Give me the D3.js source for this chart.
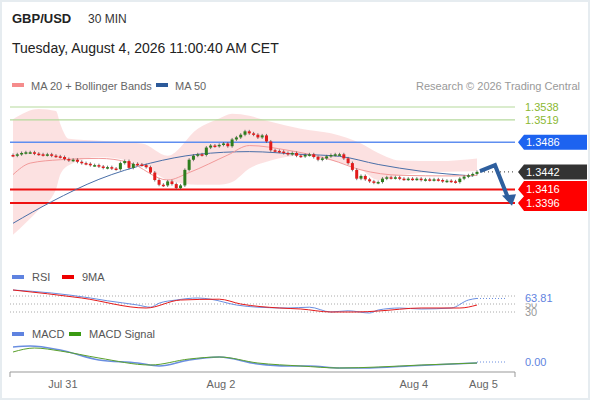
<!DOCTYPE html><html><head><meta charset="utf-8">
<script src="https://cdn.jsdelivr.net/npm/d3@7"></script>
<style>body{margin:0;background:#fff;font-family:"Liberation Sans",Arial,sans-serif}</style></head><body>
<svg id="c" width="590" height="400"></svg>
<script>
// ---- data ----
const closes=[1.3466,1.3468,1.3470,1.3471,1.3471,1.3469,1.3468,1.3467,1.3468,1.3466,1.3465,1.3464,1.3461,1.3459,1.3460,1.3457,1.3455,1.3454,1.3452,1.3452,1.3450,1.3448,1.3449,1.3447,1.3446,1.3455,1.3458,1.3448,1.3454,1.3453,1.3452,1.3449,
1.3441,1.3430,1.3423,1.3422,1.3428,1.3424,1.3418,1.3422,1.3445,
1.3460,1.3466,1.3468,1.3467,1.3478,1.3481,1.3480,1.3482,1.3484,1.3480,
1.3490,1.3493,1.3497,1.3502,1.3499,1.3497,1.3493,1.3496,1.3487,
1.3474,1.3473,1.3472,1.3470,1.3468,1.3470,1.3466,1.3465,1.3467,1.3468,1.3464,1.3460,1.3462,1.3465,1.3467,1.3468,1.3468,1.3462,1.3455,
1.3445,1.3432,1.3436,1.3431,1.3428,1.3426,1.3427,1.3432,1.3434,1.3433,1.3434,1.3432,1.3431,1.3432,1.3431,1.3432,1.3430,1.3431,1.3430,1.3431,1.3430,1.3428,1.3429,1.3428,1.3427,1.3432,1.3435,1.3437,1.3439,1.3442];
const ma20=[[0,1.3438],[4,1.3455],[11,1.3460],[20,1.3462],[27,1.3456],[36,1.3430],[41,1.3441],[50,1.3467],[55,1.3481],[64,1.3474],[74,1.3460],[81,1.3445],[90,1.3437],[102,1.3436],[108,1.3437]];
const ma50=[[0,1.3366],[9,1.3398],[20,1.3431],[32,1.3455],[43,1.3468],[55,1.3472],[67,1.3468],[76,1.3465],[85,1.3453],[95,1.3443],[107,1.3436]];
const bbUp=[[0,1.3520],[6,1.3535],[10,1.3532],[11,1.3513],[13,1.3491],[20,1.3488],[30,1.3484],[36,1.3466],[43,1.3506],[48,1.3521],[51,1.3528],[55,1.3525],[60,1.3516],[67,1.3506],[74,1.3499],[81,1.3484],[85,1.3470],[90,1.3459],[99,1.3458],[108,1.3462]];
const bbLo=[[0,1.3349],[4,1.3386],[9,1.3416],[11,1.3438],[13,1.3452],[20,1.3464],[27,1.3452],[32,1.3430],[39,1.3423],[43,1.3423],[48,1.3427],[53,1.3447],[57,1.3459],[62,1.3466],[67,1.3459],[76,1.3445],[83,1.3430],[90,1.3437],[99,1.3442],[108,1.3443]];
const rsi=[[0,85],[9,77.5],[18,65],[22,58],[29,47.5],[32,42],[34,52],[38,60],[43,65],[46,62],[52,47.5],[57,42],[64,40],[69,42],[74,30],[78,33],[83,27.5],[85,35],[90,40],[95,37.5],[102,40],[106,60],[108,64]];
const rsiMA=[[0,85],[16,65],[31,40],[39,60],[48,62],[53,50],[62,40],[67,37.5],[74,30],[80,30],[85,32.5],[95,40],[104,40],[108,47.5]];
const macd=[[0,15],[4,16],[11,12],[20,2],[29,-1],[34,-4],[41,2],[48,5],[57,-2],[64,-4],[69,-4],[76,-6],[83,-6],[92,-4],[108,-1]];
const signal=[[0,10],[5,14],[11,11],[20,4],[32,-3],[41,3],[48,5],[57,-1],[67,-4],[76,-6],[85,-5],[95,-3],[108,-1]];
const levels={green:[1.3538,1.3519],blue:1.3486,last:1.3442,red:[1.3416,1.3396]};
const dayTicks=[[11.6,"Jul 31"],[48.4,"Aug 2"],[93.3,"Aug 4"],[109.5,"Aug 5"]];
// ---- drawing ----
const svg=d3.select("#c");
svg.append("rect").attr("x",0.5).attr("y",0.5).attr("width",589).attr("height",399).attr("fill","#fff").attr("stroke","#e6ecf0").attr("stroke-width",3);
const x=d3.scaleLinear().domain([0,108]).range([13,477]);
const xc=d3.scaleLinear().domain([0,closes.length-1]).range([13,477]);
const y=d3.scaleLinear().domain([1.3396,1.3538]).range([203,107]);
const yr=d3.scaleLinear().domain([30,70]).range([312,296]);
const ym=d3.scaleLinear().domain([-10,10]).range([372,352]);
const T=(t,xx,yy,o={})=>svg.append("text").attr("x",xx).attr("y",yy).text(t).attr("font-size",o.s||11).attr("fill",o.c||"#333").attr("font-weight",o.w||"normal").attr("text-anchor",o.a||"start");
T("GBP/USD",12,23,{s:13,w:"bold",c:"#222"});T("30 MIN",88,23,{s:12,c:"#333"});
T("Tuesday, August 4, 2026 11:00:40 AM CET",12,53,{s:14,c:"#222"});
svg.append("rect").attr("x",12).attr("y",83).attr("width",12).attr("height",4).attr("fill","#f58c8c");
T("MA 20 + Bollinger Bands",31,90,{c:"#666"});
svg.append("rect").attr("x",156).attr("y",83).attr("width",12).attr("height",4).attr("fill","#2c5a9a");
T("MA 50",175,90,{c:"#666"});
T("Research © 2026 Trading Central",580,90,{c:"#999",a:"end"});
const lineF=(sc)=>d3.line().x(d=>x(d[0])).y(d=>sc(d[1])).curve(d3.curveMonotoneX);
svg.append("path").attr("d",d3.area().x(d=>x(d[0])).y0(d=>y(d[1])).y1(d=>y(d[2])).curve(d3.curveMonotoneX)(bbUp.map((d,i)=>[d[0],d[1],bbLo[i][1]]))).attr("fill","#fbdada").attr("opacity",0.8);
levels.green.forEach(v=>{svg.append("line").attr("x1",10).attr("x2",515).attr("y1",y(v)).attr("y2",y(v)).attr("stroke","#b5d99c").attr("stroke-width",1.2);T(v.toFixed(4),525,y(v)+4,{c:"#8ab832"});});
svg.append("line").attr("x1",10).attr("x2",515).attr("y1",y(levels.blue)).attr("y2",y(levels.blue)).attr("stroke","#5f8ef0").attr("stroke-width",1.5);
levels.red.forEach(v=>svg.append("line").attr("x1",10).attr("x2",515).attr("y1",y(v)).attr("y2",y(v)).attr("stroke","#ee1111").attr("stroke-width",2));
svg.append("path").attr("d",lineF(y)(ma50)).attr("fill","none").attr("stroke","#4a6fa8").attr("stroke-width",1);
svg.append("path").attr("d",lineF(y)(ma20)).attr("fill","none").attr("stroke","#f29a9a").attr("stroke-width",1);
closes.forEach((c,i)=>{const o=i?closes[i-1]:c+0.0001;const up=c>=o;const col=up?"#2e7d1e":"#e21b1b";
 svg.append("line").attr("x1",xc(i)).attr("x2",xc(i)).attr("y1",y(Math.max(o,c))-1.5).attr("y2",y(Math.min(o,c))+1.5).attr("stroke","#555").attr("stroke-width",0.8);
 const t=y(Math.max(o,c)),b=y(Math.min(o,c));
 svg.append("rect").attr("x",xc(i)-1.5).attr("y",t).attr("width",3).attr("height",Math.max(1.5,b-t)).attr("fill",col);});
svg.append("line").attr("x1",480).attr("x2",515).attr("y1",y(levels.last)).attr("y2",y(levels.last)).attr("stroke","#333").attr("stroke-dasharray","1,3");
svg.append("path").attr("d",`M480,${y(1.3443)} L495,${y(1.3452)} L509,${y(1.3400)}`).attr("fill","none").attr("stroke","#2e5f9e").attr("stroke-width",4).attr("stroke-linejoin","miter");
svg.append("path").attr("d",`M502,${y(1.3407)} L512,${y(1.3392)} L516,${y(1.3409)} Z`).attr("fill","#2e5f9e");
const tag=(yc,h,col,texts)=>{svg.append("path").attr("d",`M518,${yc} L524,${yc-h/2} L587,${yc-h/2} L587,${yc+h/2} L524,${yc+h/2} Z`).attr("fill",col);texts.forEach(t=>T(t[0],526,t[1]+4,{c:"#fff"}));};
tag(y(levels.blue),15,"#1d63f0",[[levels.blue.toFixed(4),y(levels.blue)]]);
tag(y(levels.last),15,"#333",[[levels.last.toFixed(4),y(levels.last)]]);
svg.append("path").attr("d",`M518,${y(1.3416)} L524,181 L587,181 L587,211 L524,211 L518,${y(1.3396)} L524,${(y(1.3416)+y(1.3396))/2} Z`).attr("fill","#ff0000");
levels.red.forEach(v=>T(v.toFixed(4),526,y(v)+4,{c:"#fff"}));
svg.append("rect").attr("x",12).attr("y",275).attr("width",12).attr("height",4).attr("fill","#5f83e0");T("RSI",32,281,{c:"#555"});
svg.append("rect").attr("x",62).attr("y",275).attr("width",12).attr("height",4).attr("fill","#e00");T("9MA",82,281,{c:"#555"});
[70,50,30].forEach(v=>svg.append("line").attr("x1",10).attr("x2",515).attr("y1",yr(v)).attr("y2",yr(v)).attr("stroke","#aaa").attr("stroke-dasharray","1,2"));
T("30",525,yr(30)+4,{c:"#999"});T("50",525,yr(50)+4,{c:"#999"});
svg.append("rect").attr("x",523).attr("y",yr(64)-6).attr("width",35).attr("height",11).attr("fill","#fff");
T("63.81",525,yr(63.81)+4,{c:"#5f83e0"});
svg.append("path").attr("d",lineF(yr)(rsi)).attr("fill","none").attr("stroke","#6a8ee0").attr("stroke-width",1);
svg.append("path").attr("d",lineF(yr)(rsiMA)).attr("fill","none").attr("stroke","#e51a1a").attr("stroke-width",1);
svg.append("line").attr("x1",x(108)).attr("x2",505).attr("y1",yr(63.81)).attr("y2",yr(63.81)).attr("stroke","#6a8ee0").attr("stroke-dasharray","1,2");
svg.append("rect").attr("x",12).attr("y",332).attr("width",12).attr("height",4).attr("fill","#5f83e0");T("MACD",32,338,{c:"#555"});
svg.append("rect").attr("x",69).attr("y",332).attr("width",12).attr("height",4).attr("fill","#3a9a12");T("MACD Signal",89,338,{c:"#555"});
svg.append("path").attr("d",lineF(ym)(macd)).attr("fill","none").attr("stroke","#6a8ee0").attr("stroke-width",1.5);
svg.append("path").attr("d",lineF(ym)(signal)).attr("fill","none").attr("stroke","#5aa02c").attr("stroke-width",1);
svg.append("line").attr("x1",x(108)).attr("x2",505).attr("y1",ym(0)).attr("y2",ym(0)).attr("stroke","#6a8ee0").attr("stroke-dasharray","1,2");
T("0.00",525,ym(0)+4,{c:"#5f83e0"});
const ax=svg.append("g").attr("transform","translate(0,372)");
ax.append("line").attr("x1",10).attr("x2",515).attr("stroke","#999");
[10,515].forEach(v=>ax.append("line").attr("x1",v).attr("x2",v).attr("y1",0).attr("y2",5).attr("stroke","#999"));
dayTicks.forEach(d=>T(d[1],x(d[0]),388,{c:"#666",a:"middle"}));
</script></body></html>
